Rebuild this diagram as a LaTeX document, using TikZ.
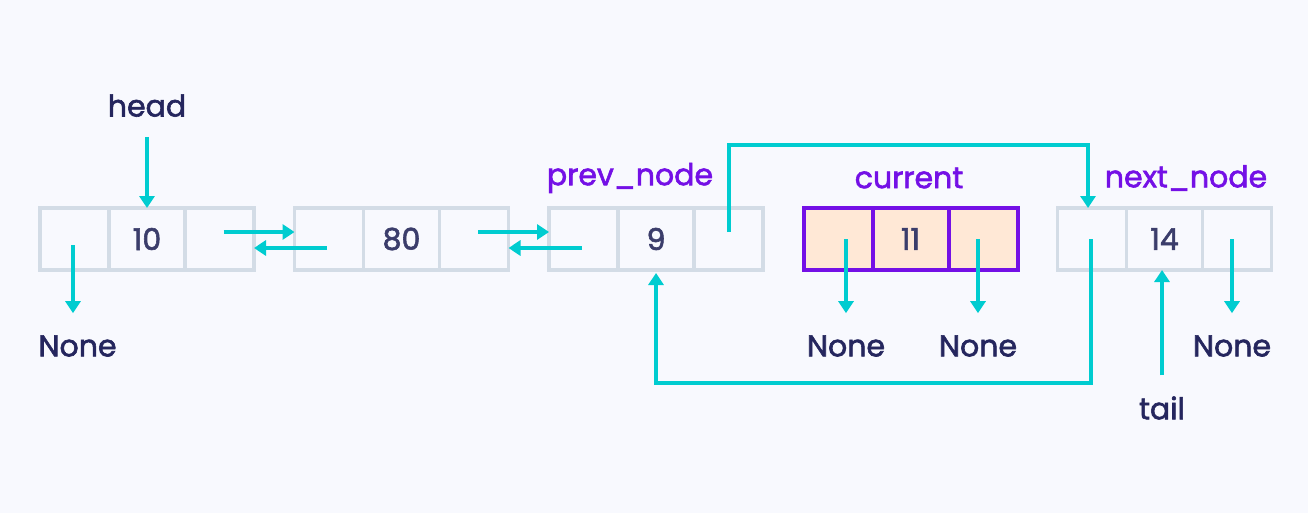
\documentclass[tikz,border=0pt]{standalone}
\usepackage{fontspec}
\setmainfont{Poppins}[FakeBold=2]
\usetikzlibrary{arrows.meta,positioning}
\definecolor{bgcol}{HTML}{F8F9FE}
\definecolor{boxgray}{HTML}{D3DCE6}
\definecolor{navy}{HTML}{25265E}
\definecolor{numgray}{HTML}{3B3D6B}
\definecolor{linkteal}{HTML}{00CCD0}
\definecolor{purp}{HTML}{7410E6}
\definecolor{peach}{HTML}{FFE8D6}

\begin{document}
\begin{tikzpicture}[
    x=1pt, y=-1pt,
    >={Triangle[width=15pt,length=12pt]},
    font=\fontsize{30}{36}\selectfont,
    cell/.style={
		rectangle,
		draw=boxgray,
		line width=3.5pt,
		minimum width=69pt,
		minimum height=62pt,
		inner sep=0pt,
		outer sep=0pt,
		text=numgray
	},
	midcell/.style={
		cell,
		minimum width=76pt
	},
	curcell/.style={
		draw=purp,
		line width=4pt,
		fill=peach
	},
	txt/.style={
		inner sep=0pt,
		text=navy
	},
	ptr/.style={
		inner sep=0pt,
		text=purp
	},
	link/.style={
		draw=linkteal,
		line width=4pt,
		->
	}
  ]
  \fill [bgcol] (0,0) rectangle (1308,513);
  \useasboundingbox (0,0) rectangle (1308,513);

    % We start by placing the blocks
  \node [cell] (a1) at (74.5,239) {};
  \node [midcell, right=0pt of a1] (a2) {10};
  \node [cell, right=0pt of a2] (a3) {};

  \node [cell, right=40.5pt of a3] (b1) {};
  \node [midcell, right=0pt of b1] (b2) {80};
  \node [cell, right=0pt of b2] (b3) {};

  \node [cell, right=40.5pt of b3] (c1) {};
  \node [midcell, right=0pt of c1] (c2) {9};
  \node [cell, right=0pt of c2] (c3) {};

  \node [cell, curcell, right=40.5pt of c3] (d1) {};
  \node [midcell, curcell, right=0pt of d1] (d2) {11};
  \node [cell, curcell, right=0pt of d2] (d3) {};

  \node [cell, right=40pt of d3] (e1) {};
  \node [midcell, right=0pt of e1] (e2) {14};
  \node [cell, right=0pt of e2] (e3) {};

    % labels
  \node [txt, above=91pt of a2] (head) {head};
  \node [txt] (none1) at (77.5,346) {None};
  \node [ptr] (prevlbl) at (630,178) {prev\_node};
  \node [ptr] (curlbl) at (909,178) {current};
  \node [ptr] (nextlbl) at (1186,178) {next\_node};
  \node [txt] (none2) at (846,346) {None};
  \node [txt] (none3) at (978,346) {None};
  \node [txt] (none4) at (1232,346) {None};
  \node [txt] (tail) at (1162,408) {tail};

    % and now the links
  \draw [link] ([yshift=-20pt]head.south) -- (a2.north);
  \draw [link, shorten >=22pt] ([xshift=-4.5pt,yshift=-6pt]none1.north |- a1.center) -- ([xshift=-4.5pt]none1.north);

  \draw [link] ([xshift=4pt,yshift=7pt]a3.center) -- ([yshift=7pt]b1.west);
  \draw [link] ([xshift=-2pt,yshift=-9pt]b1.center) -- ([yshift=-9pt]a3.east);
  \draw [link] ([xshift=4pt,yshift=7pt]b3.center) -- ([yshift=7pt]c1.west);
  \draw [link] ([xshift=-2pt,yshift=-9pt]c1.center) -- ([yshift=-9pt]b3.east);

  \draw [link] ([yshift=7pt]c3.center) -- ++(0,-87) -| ([xshift=-4pt]e1.north);
  \draw [link, shorten >=3pt] ([xshift=-1pt]e1.center) -- ++(0,144) -| (c2.south);

  \draw [link, shorten >=22pt] (none2.north |- d1.center) -- (none2.north);
  \draw [link, shorten >=22pt] (none3.north |- d3.center) -- (none3.north);
  \draw [link, shorten >=22pt] (none4.north |- e3.center) -- (none4.north);
  \draw [link, shorten <=21pt] (tail.north) -- (tail.north |- e2.south);

\end{tikzpicture}
\end{document}
